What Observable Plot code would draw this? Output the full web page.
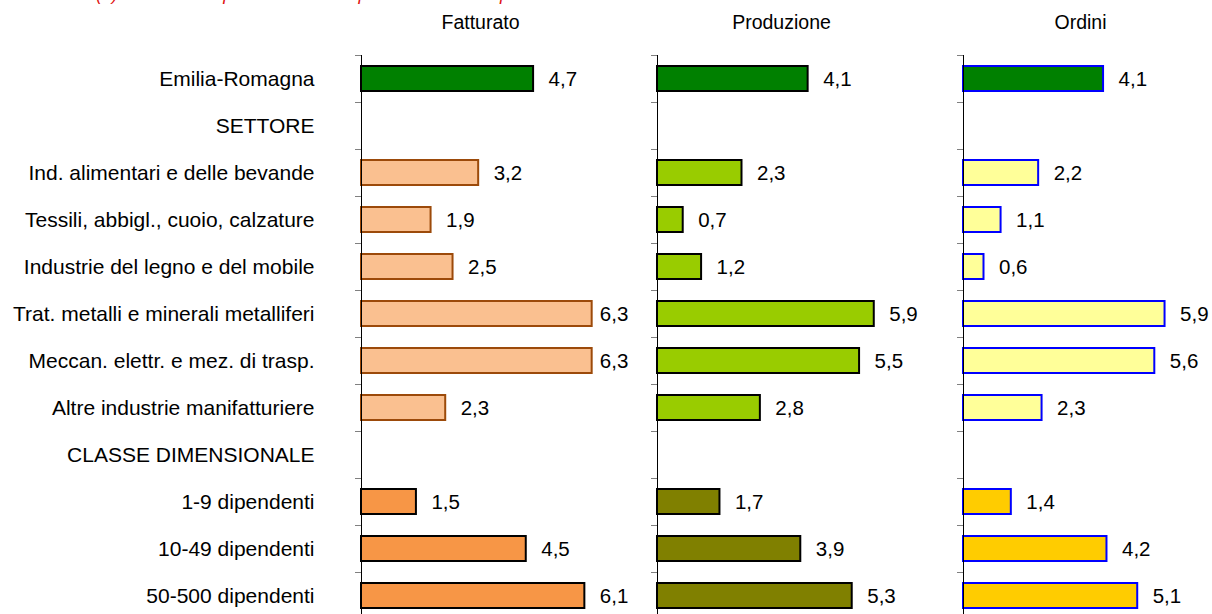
<!DOCTYPE html>
<html>
<head>
<meta charset="utf-8">
<script src="https://cdn.jsdelivr.net/npm/d3@7"></script>
<script src="https://cdn.jsdelivr.net/npm/@observablehq/plot@0.6"></script>
<style>
  html, body { margin: 0; padding: 0; background: #fff; overflow: hidden; }
  #chart { position: relative; width: 1212px; height: 614px; overflow: hidden; font-family: "Liberation Sans", Arial, sans-serif; }
  #chart > svg, #chart > figure { position: absolute; top: 0; margin: 0; }
  #note { position: absolute; left: 96px; top: -16px; font-size: 18px; line-height: 20px; font-style: italic; color: #e01010; white-space: nowrap; }
</style>
</head>
<body>
<div id="chart"><div id="note">(1) Variaz. % rispetto allo stesso periodo dell'anno precedente</div></div>
<script>
const categories = [
  "Emilia-Romagna",
  "SETTORE",
  "Ind. alimentari e delle bevande",
  "Tessili, abbigl., cuoio, calzature",
  "Industrie del legno e del mobile",
  "Trat. metalli e minerali metalliferi",
  "Meccan. elettr. e mez. di trasp.",
  "Altre industrie manifatturiere",
  "CLASSE DIMENSIONALE",
  "1-9 dipendenti",
  "10-49 dipendenti",
  "50-500 dipendenti"
];
const groups = ["totale", null, "settore", "settore", "settore", "settore", "settore", "settore", null, "classe", "classe", "classe"];
const fatturato  = [4.7, null, 3.2, 1.9, 2.5, 6.3, 6.3, 2.3, null, 1.5, 4.5, 6.1];
const produzione = [4.1, null, 2.3, 0.7, 1.2, 5.9, 5.5, 2.8, null, 1.7, 3.9, 5.3];
const ordini     = [4.1, null, 2.2, 1.1, 0.6, 5.9, 5.6, 2.3, null, 1.4, 4.2, 5.1];
const titles = ["Fatturato", "Produzione", "Ordini"];

const fmt = v => d3.format(".1f")(v).replace(".", ",");
const FONT = "'Liberation Sans', Arial, sans-serif";

function panel({values, title, styles, domain, width, left, marginLeft, marginRight, showLabels, cap}) {
  const data = categories.map((c, i) => ({c, v: values[i], g: groups[i]})).filter(d => d.v != null);
  const ppu = (width - marginLeft - marginRight) / (domain[1] - domain[0]);
  const marks = [
    Plot.ruleY(categories, {y: d => d, x1: -6 / ppu, x2: 0, dy: -23.5, stroke: "#808080", strokeWidth: 1})
  ];
  for (const g of ["totale", "settore", "classe"]) {
    marks.push(Plot.barX(data.filter(d => d.g === g), {
      y: "c", x: "v", fill: styles[g].fill, stroke: styles[g].stroke, strokeWidth: 2
    }));
  }
  marks.push(Plot.ruleX([0], {stroke: "black", strokeWidth: 1}));
  marks.push(Plot.text(data, {
    y: "c", x: d => Math.min(d.v, cap), text: d => fmt(d.v), dx: 15, textAnchor: "start",
    fill: "black", fontSize: 20.5
  }));
  marks.push(Plot.text([title], {
    frameAnchor: "top", dy: -33, lineAnchor: "middle", text: d => d, fill: "black", fontSize: 19.5
  }));
  const svg = Plot.plot({
    width, height: 619,
    marginTop: 55, marginBottom: 0, marginLeft, marginRight,
    x: {domain, axis: null},
    y: {domain: categories, paddingInner: 0.47, paddingOuter: 0.235, axis: showLabels ? "left" : null,
        tickSize: 0, tickPadding: 47, label: null},
    style: {fontFamily: FONT, fontSize: "21px", background: "transparent", color: "black", overflow: "visible"},
    marks
  });
  svg.style.left = left + "px";
  return svg;
}

const chart = document.getElementById("chart");
chart.appendChild(panel({
  values: fatturato, title: titles[0], domain: [0, 6.5], width: 640, left: 0,
  marginLeft: 361, marginRight: 41, showLabels: true, cap: 6.1,
  styles: {
    totale: {fill: "#008000", stroke: "#000000"},
    settore: {fill: "#FAC090", stroke: "#9C4A0A"},
    classe: {fill: "#F79646", stroke: "#000000"}
  }
}));
chart.appendChild(panel({
  values: produzione, title: titles[1], domain: [0, 6.75], width: 300, left: 640,
  marginLeft: 17, marginRight: 35, showLabels: false, cap: Infinity,
  styles: {
    totale: {fill: "#008000", stroke: "#000000"},
    settore: {fill: "#99CC00", stroke: "#000000"},
    classe: {fill: "#808000", stroke: "#000000"}
  }
}));
chart.appendChild(panel({
  values: ordini, title: titles[2], domain: [0, 6.85], width: 272, left: 940,
  marginLeft: 23, marginRight: 15, showLabels: false, cap: Infinity,
  styles: {
    totale: {fill: "#008000", stroke: "#0000FF"},
    settore: {fill: "#FFFF99", stroke: "#0000FF"},
    classe: {fill: "#FFCC00", stroke: "#0000FF"}
  }
}));
</script>
</body>
</html>
